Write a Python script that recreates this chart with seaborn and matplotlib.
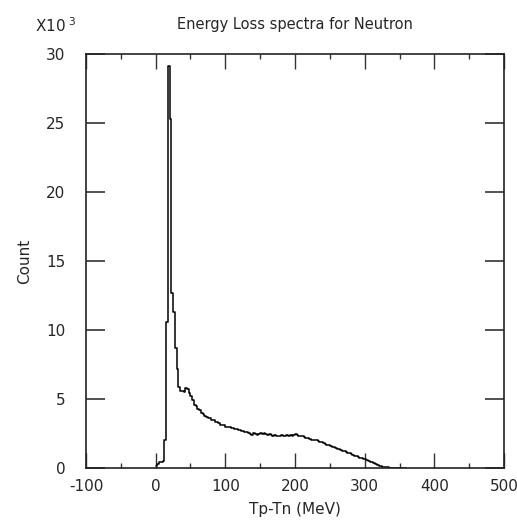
import numpy as np
import pandas as pd
import seaborn as sns
import matplotlib.pyplot as plt
from matplotlib.ticker import MultipleLocator

# energy loss bins (MeV), 2.5 MeV wide, starting at 0
bin_width = 2.5
counts_k = [
    0.15, 0.3, 0.45, 0.4, 0.5, 2.0, 10.6, 29.1, 25.3, 12.7,
    11.3, 8.7, 7.2, 5.9, 5.6, 5.6, 5.5, 5.8, 5.7, 5.4,
    5.2, 4.9, 4.6, 4.5, 4.3, 4.2, 4.0, 3.9, 3.8, 3.7,
    3.65, 3.6, 3.5, 3.45, 3.35, 3.3, 3.25, 3.15, 3.1, 3.1,
    3.0, 3.0, 2.95, 2.9, 2.9, 2.85, 2.8, 2.75, 2.75, 2.7,
    2.65, 2.6, 2.6, 2.55, 2.45, 2.4, 2.5, 2.45, 2.4, 2.45,
    2.5, 2.45, 2.5, 2.45, 2.4, 2.45, 2.4, 2.35, 2.4, 2.35,
    2.3, 2.35, 2.4, 2.35, 2.3, 2.4, 2.35, 2.4, 2.35, 2.4,
    2.45, 2.4, 2.35, 2.3, 2.3, 2.25, 2.2, 2.2, 2.1, 2.05,
    2.05, 2.0, 2.0, 1.95, 1.9, 1.85, 1.8, 1.75, 1.7, 1.65,
    1.6, 1.55, 1.5, 1.45, 1.4, 1.35, 1.3, 1.25, 1.2, 1.15,
    1.1, 1.05, 1.0, 0.95, 0.9, 0.85, 0.8, 0.75, 0.7, 0.68,
    0.62, 0.55, 0.5, 0.45, 0.4, 0.33, 0.27, 0.22, 0.17, 0.13,
    0.1, 0.08, 0.06, 0.04, 0.03, 0.02, 0.015, 0.01, 0.008, 0.005,
    0.003, 0.002, 0.0, 0.0,
]
xticks = [-100, 0, 100, 200, 300, 400, 500]
yticks = [0, 5, 10, 15, 20, 25, 30]

edges = list(np.arange(len(counts_k) + 1) * bin_width)
df = pd.DataFrame({
    "energy": np.array(edges[:-1]) + bin_width / 2,
    "count": np.array(counts_k) * 1000,
})

sns.set_style("ticks")
plt.rcParams['font.family'] = ['DejaVu Sans']

fig = plt.figure(figsize=(5.17, 5.24), dpi=100)
ax = fig.add_axes([0.1663, 0.1069, 0.8086, 0.79])

sns.histplot(data=df, x="energy", weights="count", bins=edges, element="step",
             fill=False, color="black", linewidth=1.1, ax=ax)

ax.set_xlim(-100, 500)
ax.set_ylim(0, 30000)
ax.set_xticks(xticks)
ax.set_xticklabels([str(t) for t in xticks])
ax.xaxis.set_minor_locator(MultipleLocator(50))
ax.set_yticks([t * 1000 for t in yticks])
ax.set_yticklabels([str(t) for t in yticks])

ax.tick_params(axis='x', which='major', direction='in', length=10.5, width=1,
               top=True, bottom=True, labelsize=11, pad=8, color='#333333')
ax.tick_params(axis='x', which='minor', direction='in', length=3.5, width=1,
               top=True, bottom=True, color='#333333')
ax.tick_params(axis='y', which='major', direction='in', length=13.5, width=1.2,
               left=True, right=True, labelsize=11, pad=15, color='#333333')
for s in ax.spines.values():
    s.set_linewidth(1.2)
    s.set_color('#222222')

ax.set_xlabel("Tp-Tn (MeV)", fontsize=11, labelpad=6)
ax.set_ylabel("Count", fontsize=11, labelpad=10)
ax.set_title("Energy Loss spectra for Neutron", fontsize=10.5, pad=18)
fig.text(0.068, 0.952, r"X10$^{\ 3}$", fontsize=11, ha='left', va='center')

fig.savefig("out.png", dpi=100)
